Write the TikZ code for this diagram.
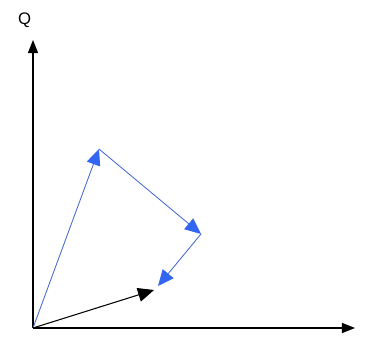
\documentclass[tikz,border=0pt]{standalone}
\usepackage{fontspec}
\setmainfont{Liberation Sans}
\usetikzlibrary{arrows.meta, positioning}
\definecolor{vecblue}{HTML}{3366F0}
\definecolor{lineblue}{HTML}{4A6CD0}

\begin{document}
\begin{tikzpicture}[
  axis/.style={-{Triangle[length=0.26cm, width=0.2cm]}, line width=0.7pt, color=black},
  vec/.style={-{Triangle[length=0.32cm, width=0.28cm]}, line width=0.6pt},
  bluevec/.style={vec, line width=0.5pt, color=lineblue, -{Triangle[length=0.32cm, width=0.28cm, color=vecblue, fill=vecblue]}},
  lbl/.style={font=\fontsize{9.5}{11}\selectfont, inner sep=0pt},
]
\useasboundingbox (0,0) rectangle (7.52,6.8);
% --- axes ---
\coordinate (origin) at (0.66,0.24);
\coordinate (ytip) at (0.66,6.0);
\coordinate (xtip) at (7.1,0.24);
\draw[axis] (origin) -- (ytip);
\draw[axis] (origin) -- (xtip);
\node[lbl] (qlabel) at (0.49,6.4) {Q};

% --- vectors ---
\coordinate (pa) at (1.98,3.82);
\coordinate (pb) at (4.02,2.12);
\coordinate (pc) at (3.16,1.08);
\coordinate (pd) at (3.08,1.0);
\draw[bluevec] (origin) -- (pa);
\draw[bluevec] (pa) -- (pb);
\draw[bluevec] (pb) -- (pc);
\draw[vec] (origin) -- (pd);
\end{tikzpicture}
\end{document}
